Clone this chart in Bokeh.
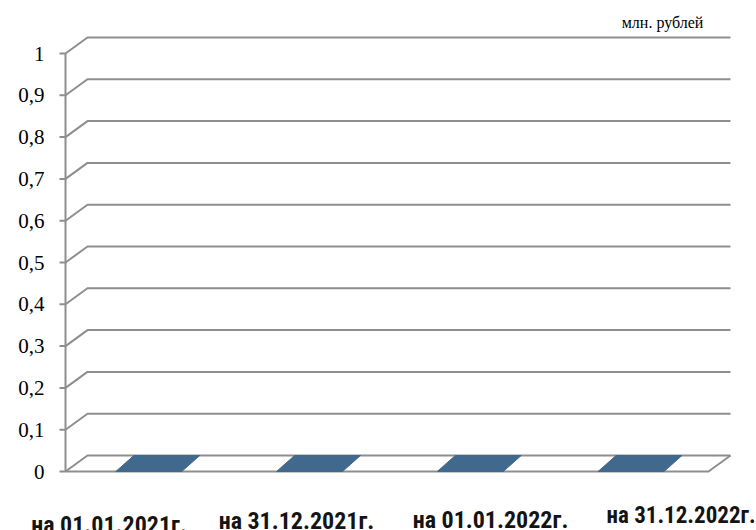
from bokeh.plotting import figure
from bokeh.models import Range1d
from bokeh.core.properties import value
from bokeh.embed import file_html
from bokeh.resources import INLINE

# ---- data ----
categories = ["на 01.01.2021г.", "на 31.12.2021г.", "на 01.01.2022г.", "на 31.12.2022г."]
values = [0, 0, 0, 0]
y_ticks = [0, 0.1, 0.2, 0.3, 0.4, 0.5, 0.6, 0.7, 0.8, 0.9, 1]
y_tick_labels = ["0", "0,1", "0,2", "0,3", "0,4", "0,5", "0,6", "0,7", "0,8", "0,9", "1"]
unit_text = "млн. рублей"

# ---- layout (pixels) ----
W, H = 756, 530
X0, Y0 = 65, 471      # canvas position of (0, 0)
PXX = 160.75          # px per category
PXY = 418.0           # px per unit value
DX = 22 / PXX         # depth offset of back wall
DY = 16 / PXY
BAR_A, BAR_W, BAR_DX = 0.313, 0.41, 18 / PXX
TICK = 6 / PXX
LABEL_GAP = 21 / PXX

SERIF = value("Liberation Serif")
CONDENSED = value("Roboto Condensed")

p = figure(width=W, height=H, output_backend="svg", toolbar_location=None,
           x_range=Range1d(-X0 / PXX, (W - X0) / PXX),
           y_range=Range1d(-(H - Y0) / PXY, Y0 / PXY),
           min_border_left=0, min_border_right=0,
           min_border_top=0, min_border_bottom=0,
           x_axis_location=None, y_axis_location=None)
p.outline_line_color = None
p.grid.visible = False
p.background_fill_color = "white"
p.border_fill_color = "white"

GRAY = "#8e8e8e"
n = len(categories)

# back-wall gridlines with the depth diagonal
xs, ys = [], []
for v in y_ticks:
    xs.append([0, DX, n + DX])
    ys.append([v, v + DY, v + DY])
p.multi_line(xs, ys, line_color=GRAY, line_width=2)

# floor front edge and right edge
p.line([0, n, n + DX], [0, 0, DY], line_color=GRAY, line_width=2)

# y axis line, ticks, labels
p.line([0, 0], [y_ticks[0], y_ticks[-1]], line_color=GRAY, line_width=2)
p.segment(x0=[-TICK] * len(y_ticks), y0=y_ticks, x1=[0] * len(y_ticks), y1=y_ticks,
          line_color=GRAY, line_width=2)
p.text(x=[-LABEL_GAP] * len(y_ticks), y=y_ticks, text=y_tick_labels,
       text_align="right", text_baseline="middle",
       text_font=SERIF, text_font_size="21px", text_color="black")

# bars (top faces of zero-height 3D bars)
bx, by = [], []
for i, v in enumerate(values):
    a = i + BAR_A
    b = a + BAR_W
    bx.append([a, b, b + BAR_DX, a + BAR_DX])
    by.append([v, v, v + DY, v + DY])
p.patches(bx, by, fill_color="#41698D", line_color="#41698D", line_width=1)

# category labels (staggered as in the reference)
label_dx = [-0.229, -0.063, 0.144, 0.33]
label_y = [-0.1268, -0.1196, -0.1172, -0.1053]
label_size = ["24px", "24px", "24px", "23px"]
for i, c in enumerate(categories):
    p.text(x=[i + 0.5 + label_dx[i]], y=[label_y[i]], text=[c],
           text_align="center", text_baseline="alphabetic",
           text_font=CONDENSED, text_font_style="bold",
           text_font_size=label_size[i], text_color="#141414")

# unit label
p.text(x=[3.714], y=[1.074], text=[unit_text], text_align="center",
       text_baseline="alphabetic", text_font=SERIF,
       text_font_size="16px", text_color="black")

open("out.html", "w").write(file_html(p, INLINE))
